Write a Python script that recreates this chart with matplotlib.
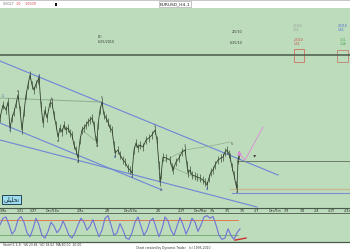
import matplotlib
matplotlib.use("Agg")
import matplotlib.pyplot as plt
from matplotlib.patches import Rectangle

W, H = 350, 250
GREEN = "#bcdcbc"

# ---------------- data ----------------
bars = [0, 3, 6, 8, 10, 12, 14, 16, 18, 20, 22, 24, 26, 28, 30, 32, 34, 36, 38, 39,
        41, 43, 45, 47, 50, 52, 54, 56, 58, 60, 62, 64, 66, 68, 70, 72, 74, 76, 78, 80,
        82, 84, 86, 88, 90, 92, 94, 96, 97, 98, 100, 102, 104, 106, 108, 110, 112, 114, 115, 118,
        120, 123, 125, 128, 130, 132, 134, 136, 138, 140, 143, 146, 149, 152, 155, 157, 159, 160, 161, 163,
        166, 170, 172, 173, 176, 179, 182, 185, 187, 188, 190, 192, 195, 197, 200, 203, 205, 207, 209, 211,
        213, 215, 218, 221, 223, 225, 227, 229, 230, 232, 234, 236, 237, 238, 239]
close = [1.090, 1.103, 1.098, 1.106, 1.080, 1.090, 1.096, 1.104, 1.113, 1.098, 1.078, 1.096, 1.113, 1.123, 1.133, 1.123, 1.118, 1.124, 1.128, 1.130,
         1.103, 1.085, 1.098, 1.090, 1.105, 1.105, 1.093, 1.083, 1.071, 1.080, 1.076, 1.083, 1.078, 1.080, 1.075, 1.073, 1.063, 1.058, 1.050, 1.068,
         1.078, 1.080, 1.083, 1.086, 1.088, 1.090, 1.083, 1.068, 1.066, 1.083, 1.098, 1.106, 1.093, 1.090, 1.086, 1.080, 1.078, 1.063, 1.055, 1.058,
         1.053, 1.048, 1.046, 1.040, 1.038, 1.035, 1.058, 1.065, 1.060, 1.063, 1.061, 1.068, 1.070, 1.073, 1.078, 1.068, 1.043, 1.026, 1.033, 1.051,
         1.050, 1.048, 1.041, 1.038, 1.046, 1.050, 1.056, 1.058, 1.043, 1.035, 1.038, 1.033, 1.032, 1.031, 1.030, 1.028, 1.026, 1.023, 1.030, 1.036,
         1.038, 1.043, 1.048, 1.050, 1.051, 1.056, 1.058, 1.054, 1.051, 1.041, 1.033, 1.023, 1.020, 1.048, 1.053]
bar_range = 0.004

osc_x = list(range(0, 241, 3))
osc_k = [60, 85, 90, 60, 25, 40, 80, 92, 70, 30, 15, 45, 85, 60, 20, 10, 35, 70, 55, 30,
         45, 75, 50, 20, 10, 30, 60, 85, 70, 40, 55, 80, 45, 15, 40, 85, 95, 60, 20, 30,
         65, 40, 10, 5, 30, 70, 90, 55, 20, 40, 75, 85, 50, 15, 45, 90, 75, 40, 20, 55,
         88, 60, 25, 50, 85, 70, 35, 60, 90, 95, 85, 92, 60, 20, 5, 10, 45, 20, 5, 30, 45]

date_pos = [3, 20, 33, 52, 80, 107, 130, 158, 182, 200, 212, 227, 242, 257, 275, 287, 302, 317, 332, 347]
date_labels = ["1/8a", "1/21", "1/27", "Dec/28a", "2/8a", "2/8", "Dec/29a", "2/6", "2/27", "Dec/Mar",
               "3/a", "3/1", "3/5", "4/7", "Dec/5m", "3/5", "3/4", "4/4", "4/17", "4/2x"]

top_line = 1.153
proj_x = [238, 245, 263]
proj_y = [1.056, 1.048, 1.081]
level_dark = 1.047
level_tan = 1.019
level_blue = 1.015


def fbox(x0, y0, x1, y1):
    return [x0 / W, 1 - y1 / H, (x1 - x0) / W, (y1 - y0) / H]


fig = plt.figure(figsize=(3.5, 2.5), dpi=100)
fig.patch.set_facecolor("white")
fig.add_artist(Rectangle((0, 1 - 243 / H), 1, (243 - 8) / H, transform=fig.transFigure,
                         facecolor=GREEN, edgecolor="none", zorder=0))

# ---------------- title bar ----------------
fig.add_artist(Rectangle((0, 1 - 1 / H), 1, 1 / H, transform=fig.transFigure,
                         facecolor="#c8c8c8", edgecolor="none"))
fig.text(175 / W, 1 - 4 / H, "EURUSD_H4-1", fontsize=3.2, ha="center", va="center",
         color="#222222", bbox=dict(boxstyle="square,pad=0.2", fc="white", ec="#999999", lw=0.4))
fig.text(3 / W, 1 - 4 / H, "0.0027", fontsize=2.4, ha="left", va="center", color="#777777")
fig.text(16 / W, 1 - 4 / H, "1.0", fontsize=2.4, ha="left", va="center", color="#d04040")
fig.text(25 / W, 1 - 4 / H, "1.0509", fontsize=2.4, ha="left", va="center", color="#d04040")
fig.add_artist(Rectangle((55 / W, 1 - 6 / H), 2 / W, 3 / H, transform=fig.transFigure,
                         facecolor="#111111", edgecolor="none"))

# ---------------- main panel ----------------
ax = fig.add_axes(fbox(0, 9, 350, 208))
ax.set_facecolor(GREEN)
ax.set_xlim(0, 350)
ax.set_ylim(1.000, 1.199)
for s in ["top", "left", "right"]:
    ax.spines[s].set_visible(False)
ax.spines["bottom"].set_color("#4a5a4a")
ax.spines["bottom"].set_linewidth(0.8)
ax.set_yticks([])
ax.set_xticks(date_pos)
ax.set_xticklabels([])
ax.tick_params(axis="x", length=1.5, width=0.4, color="#4a5a4a", direction="out")

# channel / trend lines
blue = "#6f86d6"
ax.plot([0, 278], [1.147, 1.033], color=blue, lw=0.8)
ax.plot([0, 257], [1.068, 1.001], color=blue, lw=0.8)
ax.plot([0, 162], [1.085, 1.018], color=blue, lw=0.8)
ax.plot([0, 102], [1.110, 1.106], color="#8fae8a", lw=0.7)
ax.plot([162, 185, 210, 230], [1.046, 1.058, 1.062, 1.066], color="#8fae8a", lw=0.5)
ax.plot([172, 207], [1.041, 1.025], color="#8fae8a", lw=0.5)
ax.plot([82, 97], [1.078, 1.066], color="#8fae8a", lw=0.5)

# top dark line
ax.axhline(top_line, color="#4a5a4a", lw=1.1)

# horizontal levels on the right
ax.plot([237, 350], [level_dark, level_dark], color="#6b7b6b", lw=0.7)
ax.plot([230, 350], [level_tan, level_tan], color="#c9b98f", lw=0.9)
ax.plot([232, 350], [level_blue, level_blue], color="#7a8fd0", lw=0.8)

# price (close line plus high-low bars)
ax.plot(bars, close, color="#34432f", lw=0.6)
ax.vlines(bars, [c - bar_range for c in close], [c + bar_range for c in close],
          color="#34432f", lw=0.45)

# projection
ax.plot(proj_x, proj_y, color="#e08ad8", lw=0.6)
ax.plot([239], [1.055], marker="^", ms=2, color="#e08ad8")
ax.annotate("", xy=(256, 1.053), xytext=(252, 1.050),
            arrowprops=dict(arrowstyle="-|>", color="#333333", lw=0.4, mutation_scale=3))

# boxes at the top right
ax.add_patch(Rectangle((294, 1.146), 10, 0.013, fill=False, ec="#d07060", lw=0.6))
ax.add_patch(Rectangle((337, 1.146), 11, 0.012, fill=False, ec="#c08070", lw=0.6))

# tiny annotations
tiny = dict(fontsize=2.3, ha="left", va="center")
ax.text(98, 1.171, "(2)", color="#333333", **tiny)
ax.text(98, 1.166, "6/25/2010", color="#333333", **tiny)
ax.text(230, 1.165, "6/25/10", color="#333333", **tiny)
ax.text(232, 1.176, "2/5/10", color="#333333", **tiny)
ax.text(293, 1.180, "2/5/10\n1.51", color="#999999", fontsize=2.2, ha="left", va="center")
ax.text(294, 1.166, "2/5/10\n1.51", color="#d04040", fontsize=2.2, ha="left", va="center")
ax.text(338, 1.180, "2/5/10\n1.51", color="#4060d0", fontsize=2.2, ha="left", va="center")
ax.text(340, 1.166, "1.51\n1.48", color="#40a040", fontsize=2.2, ha="left", va="center")

wave_pts = [(3, 1.112, "1", "#3050c0"), (10, 1.078, "2", "#3050c0"), (18, 1.117, "a", "#333333"),
            (39, 1.132, "3", "#3050c0"), (52, 1.109, "b", "#333333"), (58, 1.067, "c", "#333333"),
            (78, 1.046, "4", "#333333"), (102, 1.110, "5", "#333333"), (97, 1.062, "a", "#333333"),
            (115, 1.051, "b", "#3050c0"), (132, 1.031, "c", "#3050c0"), (155, 1.082, "1", "#333333"),
            (161, 1.018, "2", "#333333"), (185, 1.062, "3", "#333333"), (207, 1.019, "4", "#3050c0"),
            (232, 1.064, "5", "#333333"), (237, 1.016, "a", "#333333")]
for x, y, t, c in wave_pts:
    ax.text(x, y, t, color=c, fontsize=2.3, ha="center", va="center")

# label box (Persian)
fig.text(11.5 / W, 1 - 199.5 / H, "\ufbfd\ufee0\ufbff\ufee0\ufea4\ufe97", fontsize=4.2,
         ha="center", va="center", color="#112233", family=["DejaVu Sans"],
         bbox=dict(boxstyle="square,pad=0.3", fc="#9fdcec", ec="#224455", lw=0.7))

# date labels row
for p, lab in zip(date_pos, date_labels):
    fig.text(p / W, 1 - 210.5 / H, lab, fontsize=2.3, ha="center", va="center", color="#333333")

# ---------------- oscillator panel ----------------
ax2 = fig.add_axes(fbox(0, 213, 350, 242))
ax2.set_facecolor(GREEN)
ax2.set_xlim(0, 350)
ax2.set_ylim(-5, 105)
ax2.set_xticks([])
ax2.set_yticks([])
for s in ["left", "right"]:
    ax2.spines[s].set_visible(False)
ax2.spines["top"].set_color("#4a5a4a")
ax2.spines["top"].set_linewidth(0.6)
ax2.spines["bottom"].set_color("#4a5a4a")
ax2.spines["bottom"].set_linewidth(0.9)
ax2.plot([0, 238], [80, 80], color="#e07a50", lw=0.7)
ax2.plot([0, 238], [20, 20], color="#6aa66a", lw=0.6)
ax2.plot(osc_x, osc_k, color="#7272d6", lw=0.8)
ax2.plot([235, 246], [2, 10], color="#d03030", lw=1.0)

# bottom strip
fig.text(3 / W, 1 - 244.5 / H, "Stoch(5,3,3)  %K 23.84  %D 18.62  MA 80.00  20.00", fontsize=2.2,
         ha="left", va="center", color="#333333")
fig.text(173 / W, 1 - 247.8 / H, "Chart created by Dynamic Trader   (c) 1995-2010", fontsize=2.2,
         ha="center", va="center", color="#333333")

fig.savefig("out.png", dpi=100, facecolor="white")
